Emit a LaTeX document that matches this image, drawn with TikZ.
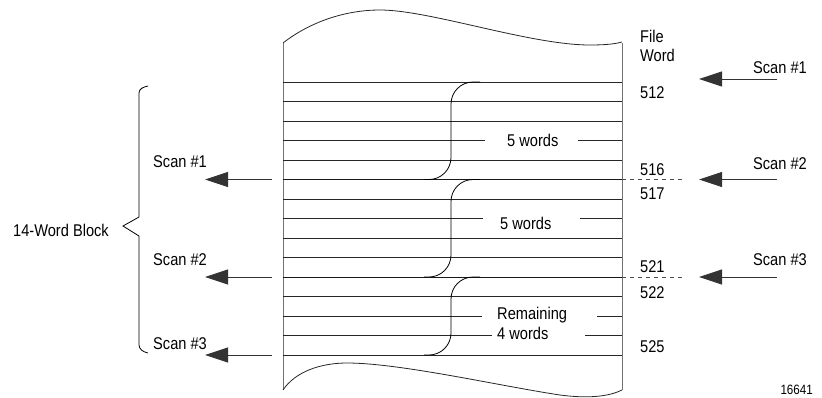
\documentclass[tikz,border=0pt]{standalone}
\usepackage{fontspec}
\setmainfont{Liberation Sans}[FakeStretch=0.86]
\usetikzlibrary{positioning,arrows.meta}
\tikzset{
  scanarr/.style={-{Triangle[length=23pt,width=15pt]},line width=0.9pt,draw=black!80,fill=black},
  txt/.style={inner sep=0pt,font=\fontsize{17}{19}\selectfont},
  wordlbl/.style={txt,anchor=base west},
  sheetline/.style={line width=0.8pt,draw=black!85},
  scanline/.style={line width=1.0pt,draw=black!90},
  sheetedge/.style={line width=0.9pt,draw=black!55},
  joinline/.style={line width=0.8pt,rounded corners=22pt},
  extline/.style={line width=0.8pt,draw=black!70,dash pattern=on 4pt off 4pt}
}

\begin{document}
\begin{tikzpicture}[x=1pt,y=-1pt]
\useasboundingbox (0,0) rectangle (822,397);

% the file (torn sheet)
\draw[sheetedge] (283,43) -- (283,390);
\draw[sheetedge] (622,43) -- (622,390);
\draw[sheetline] (283,43) .. controls (310,22) and (345,10) .. (380,10)
  .. controls (430,10) and (530,45) .. (590,45) .. controls (605,45) and (615,44) .. (622,42);
\draw[sheetline] (283,390) .. controls (295,372) and (320,363) .. (347,363)
  .. controls (400,363) and (500,386) .. (560,395) .. controls (590,399) and (610,396) .. (622,390);

% word lines
\foreach \k in {0,1,2,4,5,6,8,9,11,14}
  \draw[sheetline] (283,82+19.5*\k) -- (622,82+19.5*\k);
\draw[scanline] (283,179.5) -- (622,179.5);
\draw[scanline] (283,277) -- (622,277);
\draw[sheetline] (283,140.5) -- (485,140.5) (578,140.5) -- (622,140.5);
\draw[sheetline] (283,218.5) -- (483,218.5) (580,218.5) -- (622,218.5);
\draw[sheetline] (283,316) -- (482,316) (597,316) -- (622,316);
\draw[sheetline] (283,335.5) -- (492,335.5) (585,335.5) -- (622,335.5);

% scan boundaries
\draw[joinline] (480,82) -- (451,82) -- (451,179.5) -- (424,179.5);
\draw[joinline] (480,179.5) -- (451,179.5) -- (451,277) -- (424,277);
\draw[joinline] (480,277) -- (451,277) -- (451,355) -- (424,355);

\node[wordlbl] (grp1) at (507,146.5) {5 words};
\node[wordlbl] (grp2) at (500,229) {5 words};
\node[wordlbl] (grp3a) at (497,319) {Remaining};
\node[wordlbl] (grp3b) at (497,339) {4 words};

% file word numbers
\node[wordlbl] (hdr1) at (640,42.5) {File};
\node[wordlbl] (hdr2) at (640,61.5) {Word};
\node[wordlbl] (w512) at (640,98) {512};
\node[wordlbl] (w516) at (640,175) {516};
\node[wordlbl] (w517) at (640,199) {517};
\node[wordlbl] (w521) at (640,272) {521};
\node[wordlbl] (w522) at (640,298) {522};
\node[wordlbl] (w525) at (640,352) {525};

\coordinate (e1) at (622,179.5);
\coordinate (e1end) at (684,179.5);
\coordinate (e2) at (622,277);
\coordinate (e2end) at (684,277);
\draw[extline] (e1) -- (e1end);
\draw[extline] (e2) -- (e2end);

% scans coming in
\node[txt,anchor=base east] (in1lbl) at (807,73) {Scan \#1};
\node[txt,anchor=base east] (in2lbl) at (807,169) {Scan \#2};
\node[txt,anchor=base east] (in3lbl) at (807,265) {Scan \#3};
\coordinate (in1) at (777,79);
\coordinate (in1tip) at (699,79);
\coordinate (in2) at (777,179.5);
\coordinate (in2tip) at (699,179.5);
\coordinate (in3) at (777,277);
\coordinate (in3tip) at (699,277);
\draw[scanarr] (in1) -- (in1tip);
\draw[scanarr] (in2) -- (in2tip);
\draw[scanarr] (in3) -- (in3tip);

% scans going out
\node[wordlbl] (out1lbl) at (153,167) {Scan \#1};
\node[wordlbl] (out2lbl) at (153,265) {Scan \#2};
\node[wordlbl] (out3lbl) at (153,349) {Scan \#3};
\coordinate (out1) at (272,179.5);
\coordinate (out1tip) at (205,179.5);
\coordinate (out2) at (272,277);
\coordinate (out2tip) at (205,277);
\coordinate (out3) at (272,355);
\coordinate (out3tip) at (205,355);
\draw[scanarr] (out1) -- (out1tip);
\draw[scanarr] (out2) -- (out2tip);
\draw[scanarr] (out3) -- (out3tip);

% block brace
\draw[line width=0.8pt] (148,86) .. controls (143,87) and (139,89) .. (139,93) -- (139,217)
  -- (123,226) -- (139,236) -- (139,345) .. controls (139,349) and (143,352) .. (148,353);
\node[wordlbl] (blk) at (13,236) {14-Word Block};

\node[txt,anchor=base east,font=\fontsize{13.5}{15}\selectfont] (fig) at (813,394) {16641};
\end{tikzpicture}
\end{document}
